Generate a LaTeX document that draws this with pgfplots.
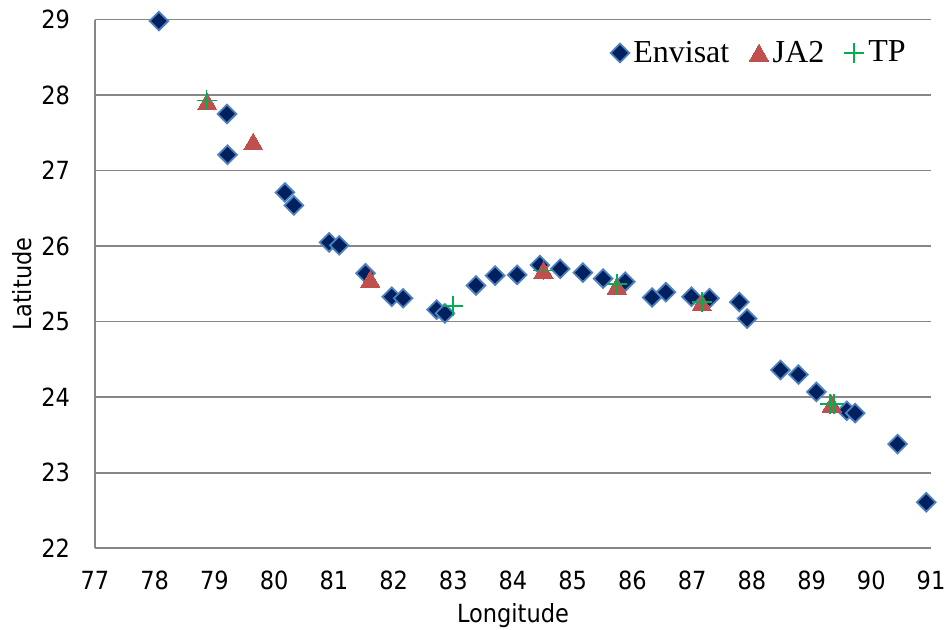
\documentclass[border=0pt]{standalone}
\usepackage{fontspec}
\usepackage{pgfplots}
\pgfplotsset{compat=1.18}
\newfontfamily\condfont{DejaVu Sans Condensed}
\newfontfamily\legfont{Liberation Serif}

\definecolor{envfill}{RGB}{0,32,96}
\definecolor{envedge}{RGB}{79,129,189}
\definecolor{jared}{RGB}{192,80,77}
\definecolor{tpgreen}{RGB}{0,176,80}
\definecolor{gridgray}{RGB}{134,134,134}

\begin{document}
\begin{tikzpicture}
\begin{axis}[
  name=ax,
  scale only axis,
  width=418pt, height=264.4pt,
  xmin=77, xmax=91, ymin=22, ymax=29,
  xtick={77,...,91}, ytick={22,...,29},
  axis x line*=bottom, axis y line*=left,
  axis line style={gridgray, line width=0.8pt},
  ymajorgrids, grid style={gridgray, line width=0.8pt},
  major tick length=0pt,
  /pgf/number format/assume math mode=true,
  tick label style={font=\condfont\fontsize{12.5}{14}\selectfont, text=black},
  xticklabel style={yshift=-8pt},
  yticklabel style={xshift=-9pt},
  label style={font=\condfont\fontsize{12.5}{14}\selectfont},
  xlabel={Longitude}, ylabel={Latitude},
  xlabel style={at={(axis description cs:0.5,-0.128)}, anchor=center},
  ylabel style={at={(axis description cs:-0.0871,0.5)}, anchor=center},
  clip=false,
  legend columns=-1,
  legend style={at={(rel axis cs:1,1)}, anchor=north east, xshift=-7.5pt, yshift=-6.5pt,
    draw=none, fill=none, font=\legfont\fontsize{16}{18}\selectfont,
    /tikz/every even column/.append style={column sep=8pt}},
  legend image code/.code={\draw[#1] plot coordinates {(0.18cm,0cm)};},
]
% Envisat
\addplot[only marks, mark=square*, mark size=3.3pt,
  mark options={rotate=45, fill=envfill, draw=envedge, line width=0.9pt}]
  coordinates {
  (78.07,28.98) (79.21,27.75) (79.22,27.21) (80.18,26.71) (80.33,26.54)
  (80.92,26.05) (81.09,26.01) (81.53,25.64) (81.97,25.33) (82.16,25.31)
  (82.72,25.16) (82.86,25.11) (83.38,25.48) (83.70,25.61) (84.07,25.62)
  (84.45,25.75) (84.79,25.70) (85.17,25.65) (85.51,25.57) (85.88,25.53)
  (86.33,25.32) (86.56,25.39) (86.99,25.33) (87.29,25.31) (87.79,25.26)
  (87.92,25.04) (88.48,24.36) (88.78,24.30) (89.08,24.07) (89.59,23.82)
  (89.73,23.79) (90.44,23.38) (90.92,22.61)
  };
\addlegendentry{Envisat}
% JA2
\addplot[only marks, mark=triangle*, mark size=5.6pt,
  mark options={fill=jared, draw=jared, line width=0pt, yshift=-1.2pt}]
  coordinates {
  (78.88,27.91) (79.65,27.38) (81.61,25.56) (84.51,25.68)
  (85.74,25.47) (87.16,25.25) (89.34,23.91)
  };
\addlegendentry{JA2}
% TP
\addplot[only marks, mark=+, mark size=5pt,
  mark options={draw=tpgreen, line width=0.8pt}]
  coordinates {
  (78.87,27.93) (83.00,25.21) (84.51,25.68) (85.74,25.50)
  (87.16,25.26) (89.31,23.91) (89.38,23.91)
  };
\addlegendentry{TP}
\end{axis}
\pgfresetboundingbox
\path (ax.south west) ++(-47.5pt,-40.85pt) rectangle ++(475.5pt,315pt);
\end{tikzpicture}
\end{document}
